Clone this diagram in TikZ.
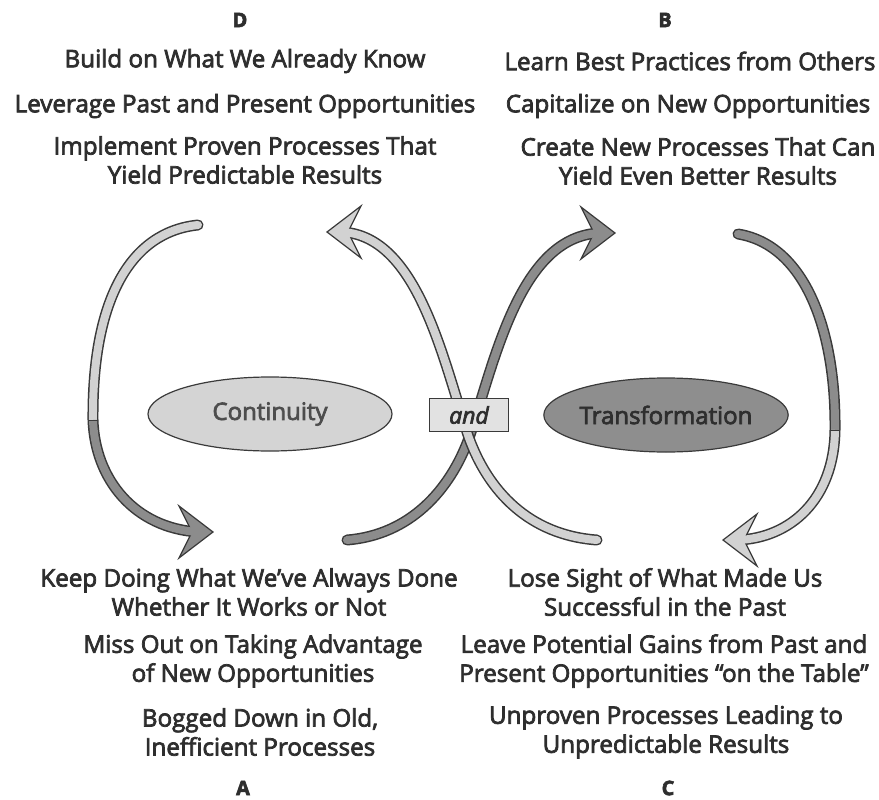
\documentclass[tikz,border=0pt]{standalone}
\usepackage{fontspec}
\setmainfont{Open Sans}[FakeBold=3]
\usetikzlibrary{shapes.geometric}

\definecolor{txtcol}{HTML}{2E2E2E}
\definecolor{edgecol}{HTML}{3A3A3A}
\definecolor{lightrib}{HTML}{D2D2D2}
\definecolor{darkrib}{HTML}{8C8C8C}
\definecolor{contfill}{HTML}{D4D4D4}
\definecolor{transfill}{HTML}{8E8E8E}
\definecolor{andfill}{HTML}{E2E2E2}

% concave arrow head: tip at #1, pointing right (#2=1) or left (#2=-1), filled with #3
\newcommand{\ribhead}[3]{%
  \filldraw[fill=#3, draw=edgecol, line width=1.2pt, line join=miter,
    shift={#1}, xscale=#2] (0,0) -- (-34,-26) -- (-21,0) -- (-34,26) -- cycle;}

\begin{document}
\begin{tikzpicture}[x=1pt, y=-1pt,
  txt/.style={text=txtcol, font=\fontsize{24.2}{29}\selectfont, align=center, inner sep=0pt},
  letter/.style={text=txtcol, font=\bfseries\fontsize{20}{25}\selectfont, inner sep=0pt},
  ribedge/.style={draw=edgecol, line width=11pt, line cap=round},
  ribcore/.style={line width=8pt, line cap=round},
  blob/.style={draw=edgecol, line width=1.2pt, ellipse, minimum width=244pt,
    minimum height=74pt, font=\fontsize{24}{28}\selectfont, inner sep=0pt}]
\useasboundingbox (0,0) rectangle (879,800);

% end points of the four ribbons
\coordinate (lt) at (198,225);   \coordinate (lsplit) at (93,420);  \coordinate (ltip) at (213,532);
\coordinate (rt) at (738,234);   \coordinate (rsplit) at (835,430); \coordinate (rtip) at (723,540);
\coordinate (dtail) at (347,540); \coordinate (dtip) at (615,233);
\coordinate (ltail) at (597,540); \coordinate (ltipx) at (327,232);
\coordinate (mid) at (469,438);

% left arc: light above, dark below, head pointing right
\draw[ribedge] (lt) .. controls (130,232) and (92,300) .. (lsplit)
  .. controls (95,480) and (135,528) .. (198,532);
\ribhead{(ltip)}{1}{darkrib}
\draw[ribcore, draw=lightrib] (lt) .. controls (130,232) and (92,300) .. (lsplit);
\draw[ribcore, draw=darkrib, line cap=butt] (lsplit) .. controls (95,480) and (135,528) .. (198,532);
\draw[edgecol, line width=1pt] (88,420) -- (98,420);

% right arc: dark above, light below, head pointing left
\draw[ribedge] (rt) .. controls (805,245) and (836,330) .. (rsplit)
  .. controls (834,500) and (790,538) .. (738,540);
\ribhead{(rtip)}{-1}{lightrib}
\draw[ribcore, draw=darkrib] (rt) .. controls (805,245) and (836,330) .. (rsplit);
\draw[ribcore, draw=lightrib, line cap=butt] (rsplit) .. controls (834,500) and (790,538) .. (738,540);
\draw[edgecol, line width=1pt] (830,430) -- (840,430);

% dark ribbon rising to the right
\draw[ribedge] (dtail) .. controls (410,535) and (450,490) .. (mid)
  .. controls (495,360) and (520,236) .. (600,233);
\ribhead{(dtip)}{1}{darkrib}
\draw[ribcore, draw=darkrib] (dtail) .. controls (410,535) and (450,490) .. (mid)
  .. controls (495,360) and (520,236) .. (600,233);

% light ribbon rising to the left, laid over the dark one
\draw[ribedge] (ltail) .. controls (528,535) and (488,490) .. (mid)
  .. controls (443,360) and (418,236) .. (342,232);
\ribhead{(ltipx)}{-1}{lightrib}
\draw[ribcore, draw=lightrib] (ltail) .. controls (528,535) and (488,490) .. (mid)
  .. controls (443,360) and (418,236) .. (342,232);

% centre labels
\node[blob, fill=contfill, text=txtcol!85!white] (cont) at (270,414) {Continuity};
\node[blob, fill=transfill, text=txtcol] (trans) at (666,415) {Transformation};
\node[draw=edgecol, line width=1.6pt, fill=andfill, minimum width=79pt, minimum height=33pt,
  inner sep=0pt, text=txtcol, font=\itshape\fontsize{23}{26}\selectfont] (and) at (469,415) {and};

% quadrant letters
\node[letter] (qd) at (240,20) {D};
\node[letter] (qb) at (665,20) {B};
\node[letter] (qa) at (243,788) {A};
\node[letter] (qc) at (668,788) {C};

% quadrant D
\node[txt] (d1) at (245,61) {Build on What We Already Know};
\node[txt] (d2) at (245,106) {Leverage Past and Present Opportunities};
\node[txt] (d3) at (245,160) {Implement Proven Processes That\\Yield Predictable Results};

% quadrant B
\node[txt] (b1) at (690,61) {Learn Best Practices from Others};
\node[txt] (b2) at (688,106) {Capitalize on New Opportunities};
\node[txt] (b3) at (698,161) {Create New Processes That Can\\Yield Even Better Results};

% quadrant A
\node[txt] (a1) at (249,592) {Keep Doing What We’ve Always Done\\Whether It Works or Not};
\node[txt] (a2) at (253,661) {Miss Out on Taking Advantage\\of New Opportunities};
\node[txt] (a3) at (260,732) {Bogged Down in Old,\\Inefficient Processes};

% quadrant C
\node[txt] (c1) at (665,592) {Lose Sight of What Made Us\\Successful in the Past};
\node[txt] (c2) at (664,661) {Leave Potential Gains from Past and\\Present Opportunities “on the Table”};
\node[txt] (c3) at (666,732) {Unproven Processes Leading to\\Unpredictable Results};
\end{tikzpicture}
\end{document}
